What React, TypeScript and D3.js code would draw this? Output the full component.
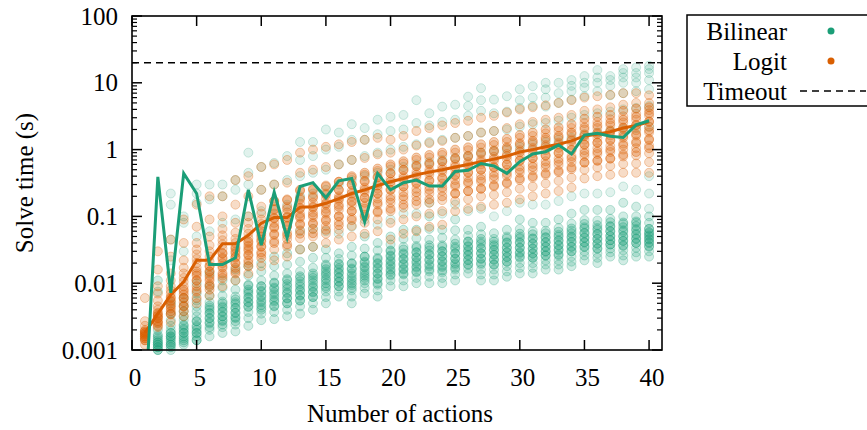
import * as d3 from "d3";

// number of actions on the x axis
const actions = [
  1, 2, 3, 4, 5, 6, 7, 8, 9, 10, 11, 12, 13, 14, 15, 16, 17, 18, 19, 20,
  21, 22, 23, 24, 25, 26, 27, 28, 29, 30, 31, 32, 33, 34, 35, 36, 37, 38, 39, 40,
];

// summary lines (s)
const bilinearLine = [
  0.00013, 0.39, 0.0072, 0.44, 0.22, 0.019, 0.019, 0.024, 0.25, 0.037,
  0.23, 0.048, 0.28, 0.32, 0.19, 0.34, 0.37, 0.083, 0.44, 0.25,
  0.32, 0.35, 0.285, 0.285, 0.47, 0.49, 0.62, 0.57, 0.44, 0.66,
  0.86, 0.93, 1.17, 0.86, 1.65, 1.75, 1.58, 1.52, 2.35, 2.7,
];
const logitLine = [
  0.0018, 0.0035, 0.0067, 0.0105, 0.022, 0.022, 0.039, 0.039, 0.052, 0.079,
  0.096, 0.096, 0.137, 0.14, 0.157, 0.185, 0.22, 0.25, 0.29, 0.33,
  0.37, 0.42, 0.46, 0.5, 0.55, 0.6, 0.66, 0.72, 0.8, 0.92,
  1.0, 1.1, 1.2, 1.35, 1.6, 1.7, 1.85, 2.1, 2.3, 2.6,
];

// individual runs, Bilinear, fast group
const bilinearLow = [
  [0.0001, 0.00012, 0.00013, 0.00014, 0.00016, 0.0002, 0.0003, 0.0006],
  [0.0009, 0.001, 0.0011, 0.0012, 0.0013, 0.0015, 0.0017, 0.002, 0.0075, 0.011],
  [0.001, 0.0012, 0.0014, 0.0016, 0.0018, 0.002, 0.0023, 0.0028, 0.0035, 0.005],
  [0.0012, 0.0015, 0.0018, 0.0021, 0.0024, 0.0028, 0.0032, 0.0038, 0.0046, 0.006],
  [0.0014, 0.0018, 0.0022, 0.0027, 0.0032, 0.0038, 0.0045, 0.0055, 0.007, 0.01],
  [0.0016, 0.002, 0.0025, 0.003, 0.0036, 0.0043, 0.0052, 0.0065, 0.009, 0.014],
  [0.0018, 0.0022, 0.0027, 0.0032, 0.0038, 0.0045, 0.0053, 0.0065, 0.0085, 0.011],
  [0.0019, 0.0024, 0.003, 0.0036, 0.0043, 0.0052, 0.0063, 0.008, 0.011, 0.016],
  [0.0023, 0.003, 0.0037, 0.0044, 0.0052, 0.0062, 0.0075, 0.0095, 0.013, 0.018],
  [0.0028, 0.0035, 0.0043, 0.0052, 0.0062, 0.0074, 0.009, 0.011, 0.015, 0.02],
  [0.0029, 0.0037, 0.0046, 0.0056, 0.0068, 0.0082, 0.01, 0.013, 0.018, 0.025],
  [0.0032, 0.004, 0.005, 0.006, 0.0073, 0.009, 0.011, 0.014, 0.019, 0.028],
  [0.0035, 0.0045, 0.0055, 0.0067, 0.008, 0.0097, 0.012, 0.015, 0.021, 0.032],
  [0.004, 0.005, 0.0062, 0.0075, 0.009, 0.011, 0.013, 0.017, 0.024, 0.035],
  [0.005, 0.0062, 0.0075, 0.009, 0.011, 0.013, 0.015, 0.018, 0.024, 0.032],
  [0.0063, 0.0075, 0.009, 0.0105, 0.012, 0.014, 0.016, 0.019, 0.023, 0.028],
  [0.005, 0.0063, 0.0078, 0.0094, 0.011, 0.013, 0.016, 0.02, 0.026, 0.035],
  [0.007, 0.0085, 0.01, 0.012, 0.014, 0.017, 0.02, 0.025, 0.033, 0.05],
  [0.0063, 0.0078, 0.0095, 0.0115, 0.014, 0.017, 0.02, 0.024, 0.031, 0.04],
  [0.009, 0.011, 0.013, 0.015, 0.018, 0.021, 0.025, 0.03, 0.038, 0.05],
  [0.009, 0.011, 0.0135, 0.016, 0.019, 0.023, 0.028, 0.035, 0.046, 0.063],
  [0.01, 0.012, 0.0145, 0.017, 0.02, 0.024, 0.029, 0.036, 0.047, 0.063],
  [0.01, 0.0125, 0.015, 0.018, 0.022, 0.027, 0.034, 0.045, 0.065, 0.1],
  [0.01, 0.012, 0.0145, 0.0175, 0.021, 0.025, 0.03, 0.037, 0.048, 0.063],
  [0.011, 0.0135, 0.016, 0.019, 0.023, 0.028, 0.035, 0.045, 0.062, 0.09],
  [0.014, 0.0165, 0.019, 0.022, 0.026, 0.03, 0.035, 0.042, 0.051, 0.063],
  [0.011, 0.0135, 0.016, 0.019, 0.023, 0.028, 0.034, 0.042, 0.054, 0.07],
  [0.011, 0.0135, 0.016, 0.019, 0.0225, 0.027, 0.032, 0.038, 0.046, 0.056],
  [0.0125, 0.015, 0.018, 0.021, 0.025, 0.029, 0.034, 0.041, 0.05, 0.063],
  [0.014, 0.017, 0.02, 0.024, 0.028, 0.034, 0.041, 0.05, 0.065, 0.09],
  [0.014, 0.017, 0.02, 0.024, 0.028, 0.033, 0.039, 0.047, 0.06, 0.08],
  [0.016, 0.019, 0.022, 0.026, 0.03, 0.035, 0.041, 0.049, 0.061, 0.08],
  [0.016, 0.019, 0.022, 0.026, 0.031, 0.037, 0.044, 0.053, 0.067, 0.09],
  [0.018, 0.021, 0.025, 0.03, 0.035, 0.042, 0.05, 0.061, 0.078, 0.11],
  [0.022, 0.026, 0.03, 0.035, 0.041, 0.048, 0.057, 0.069, 0.088, 0.125],
  [0.02, 0.024, 0.028, 0.033, 0.039, 0.046, 0.055, 0.067, 0.087, 0.125],
  [0.025, 0.029, 0.033, 0.038, 0.044, 0.051, 0.06, 0.072, 0.092, 0.125],
  [0.022, 0.026, 0.031, 0.036, 0.043, 0.051, 0.062, 0.077, 0.1, 0.16],
  [0.025, 0.029, 0.034, 0.04, 0.047, 0.055, 0.065, 0.08, 0.1, 0.14],
  [0.025, 0.03, 0.035, 0.04, 0.045, 0.05, 0.056, 0.065, 0.08, 0.1],
];

// Bilinear, the dense middle of the fast group
const bilinearCore = [
  [],
  [0.001, 0.0011, 0.0012, 0.0013, 0.0014, 0.0016],
  [0.0011, 0.0012, 0.0013, 0.0015, 0.0016, 0.0018],
  [0.0013, 0.0014, 0.0016, 0.0018, 0.002, 0.0023],
  [0.0014, 0.0016, 0.0018, 0.002, 0.0023, 0.0027],
  [0.0022, 0.0026, 0.003, 0.0035, 0.004, 0.0046],
  [0.0024, 0.0028, 0.0032, 0.0037, 0.0043, 0.005],
  [0.0027, 0.0031, 0.0036, 0.0042, 0.0049, 0.0057],
  [0.0045, 0.0052, 0.006, 0.007, 0.008, 0.0092],
  [0.004, 0.0047, 0.0055, 0.0065, 0.0077, 0.009],
  [0.0045, 0.0053, 0.0062, 0.0073, 0.0086, 0.0102],
  [0.005, 0.0059, 0.007, 0.0082, 0.0097, 0.0115],
  [0.0055, 0.0065, 0.0077, 0.009, 0.0107, 0.0127],
  [0.0062, 0.0073, 0.0086, 0.0101, 0.012, 0.014],
  [0.0085, 0.01, 0.0117, 0.0138, 0.0162, 0.019],
  [0.009, 0.0105, 0.0123, 0.0144, 0.0168, 0.0196],
  [0.0085, 0.01, 0.0118, 0.014, 0.0166, 0.0196],
  [0.011, 0.013, 0.0152, 0.0178, 0.021, 0.025],
  [0.01, 0.0118, 0.0139, 0.0164, 0.0194, 0.023],
  [0.0135, 0.016, 0.0188, 0.022, 0.026, 0.031],
  [0.014, 0.0165, 0.0195, 0.023, 0.027, 0.032],
  [0.015, 0.0177, 0.021, 0.0245, 0.029, 0.034],
  [0.016, 0.019, 0.0225, 0.0265, 0.031, 0.037],
  [0.0155, 0.0183, 0.0215, 0.0255, 0.03, 0.035],
  [0.017, 0.02, 0.0235, 0.028, 0.033, 0.039],
  [0.019, 0.0225, 0.0265, 0.031, 0.036, 0.042],
  [0.02, 0.0235, 0.028, 0.033, 0.039, 0.046],
  [0.019, 0.0225, 0.0265, 0.031, 0.036, 0.042],
  [0.021, 0.0245, 0.029, 0.034, 0.04, 0.047],
  [0.025, 0.029, 0.034, 0.04, 0.047, 0.055],
  [0.024, 0.028, 0.033, 0.039, 0.046, 0.054],
  [0.026, 0.03, 0.035, 0.041, 0.048, 0.056],
  [0.027, 0.032, 0.037, 0.043, 0.05, 0.059],
  [0.03, 0.035, 0.041, 0.048, 0.056, 0.066],
  [0.035, 0.041, 0.048, 0.056, 0.066, 0.077],
  [0.033, 0.039, 0.046, 0.054, 0.063, 0.074],
  [0.038, 0.044, 0.051, 0.06, 0.07, 0.082],
  [0.037, 0.043, 0.05, 0.059, 0.069, 0.081],
  [0.04, 0.046, 0.053, 0.062, 0.072, 0.084],
  [0.036, 0.041, 0.046, 0.052, 0.058, 0.065],
];

// individual runs, Bilinear, slow group
const bilinearHigh = [
  [],
  [],
  [0.022, 0.045, 0.15, 0.22],
  [0.03, 0.08, 0.1],
  [0.05, 0.16, 0.22, 0.3],
  [0.06, 0.18, 0.3],
  [0.08, 0.2, 0.3],
  [0.09, 0.25, 0.35],
  [0.1, 0.3, 0.45, 0.9],
  [0.12, 0.25, 0.55],
  [0.14, 0.3, 0.63],
  [0.15, 0.35, 0.8],
  [0.06, 0.2, 0.4, 0.7, 1.3],
  [0.065, 0.22, 0.45, 0.8, 1.3],
  [0.06, 0.25, 0.5, 1.0, 2.0],
  [0.055, 0.3, 0.6, 1.1, 1.8],
  [0.07, 0.35, 0.7, 1.4, 2.4],
  [0.09, 0.4, 0.8, 1.4, 2.1],
  [0.075, 0.45, 0.9, 1.7, 2.8],
  [0.09, 0.5, 1.0, 1.9, 3.1],
  [0.11, 0.55, 1.1, 2.0, 3.3],
  [0.11, 0.6, 1.2, 2.5, 5.5],
  [0.16, 0.65, 1.3, 2.3, 3.5],
  [0.11, 0.7, 1.4, 2.6, 4.4],
  [0.15, 0.75, 1.5, 2.8, 4.7],
  [0.12, 0.8, 1.6, 3.2, 4.5, 6.2],
  [0.13, 0.9, 1.8, 3.8, 5.5, 8.3],
  [0.1, 0.95, 1.9, 3.5, 5.6],
  [0.12, 1.0, 2.0, 3.7, 6.3],
  [0.16, 1.1, 2.2, 4.2, 5.5, 8.0],
  [0.15, 1.2, 2.4, 4.5, 6.0, 8.9],
  [0.15, 1.3, 2.5, 4.4, 6.0, 8.0, 10],
  [0.17, 1.4, 2.7, 5.0, 7.0, 10],
  [0.2, 1.5, 3.0, 5.6, 7.5, 9, 11],
  [0.22, 1.7, 3.3, 6.3, 8.5, 10, 12.6],
  [0.22, 1.8, 3.5, 7.5, 10, 12, 15.5],
  [0.23, 1.9, 3.7, 6.5, 9, 11, 12.6],
  [0.28, 2.0, 4.0, 7.0, 10, 12, 14, 16],
  [0.25, 2.1, 4.2, 7.5, 10, 12, 14, 17],
  [0.13, 0.22, 0.4, 2.2, 4.5, 8.0, 11, 14, 16, 18],
];

// individual runs, Logit
const logitRuns = [
  [0.0012, 0.0014, 0.0015, 0.0016, 0.0017, 0.0018, 0.0019, 0.002, 0.0023, 0.0027, 0.006],
  [0.0022, 0.0026, 0.003, 0.0033, 0.0036, 0.004, 0.0045, 0.0055, 0.007, 0.009, 0.016, 0.03],
  [0.0026, 0.0035, 0.0045, 0.0055, 0.0062, 0.007, 0.0078, 0.009, 0.011, 0.014, 0.025, 0.045],
  [0.0032, 0.0045, 0.006, 0.0075, 0.009, 0.0105, 0.012, 0.014, 0.017, 0.022, 0.04, 0.09],
  [0.005, 0.008, 0.011, 0.014, 0.017, 0.02, 0.023, 0.027, 0.032, 0.04, 0.07, 0.15],
  [0.0065, 0.009, 0.012, 0.015, 0.018, 0.021, 0.025, 0.03, 0.037, 0.05, 0.09, 0.2],
  [0.009, 0.013, 0.018, 0.023, 0.028, 0.033, 0.038, 0.044, 0.052, 0.065, 0.1, 0.2],
  [0.011, 0.015, 0.02, 0.025, 0.03, 0.035, 0.04, 0.046, 0.057, 0.08, 0.15, 0.35],
  [0.014, 0.02, 0.027, 0.033, 0.04, 0.047, 0.055, 0.065, 0.08, 0.1, 0.2, 0.4],
  [0.018, 0.027, 0.036, 0.045, 0.055, 0.066, 0.077, 0.09, 0.11, 0.14, 0.25, 0.55],
  [0.022, 0.032, 0.043, 0.055, 0.067, 0.08, 0.093, 0.11, 0.13, 0.17, 0.3, 0.6],
  [0.025, 0.035, 0.046, 0.057, 0.07, 0.083, 0.097, 0.115, 0.14, 0.18, 0.32, 0.7],
  [0.032, 0.047, 0.062, 0.078, 0.095, 0.11, 0.13, 0.155, 0.19, 0.24, 0.45, 0.9],
  [0.035, 0.05, 0.065, 0.08, 0.097, 0.115, 0.135, 0.16, 0.2, 0.26, 0.5, 1.0],
  [0.04, 0.055, 0.072, 0.09, 0.11, 0.13, 0.15, 0.18, 0.22, 0.29, 0.55, 1.1],
  [0.045, 0.063, 0.083, 0.1, 0.125, 0.15, 0.175, 0.2, 0.25, 0.33, 0.6, 1.2],
  [0.05, 0.072, 0.095, 0.12, 0.145, 0.17, 0.2, 0.24, 0.3, 0.38, 0.7, 1.3],
  [0.055, 0.08, 0.105, 0.13, 0.16, 0.19, 0.23, 0.27, 0.33, 0.42, 0.75, 1.4],
  [0.06, 0.09, 0.12, 0.15, 0.185, 0.22, 0.26, 0.31, 0.38, 0.48, 0.85, 1.5],
  [0.045, 0.08, 0.12, 0.16, 0.2, 0.25, 0.3, 0.36, 0.44, 0.56, 0.9, 1.4],
  [0.055, 0.09, 0.135, 0.18, 0.23, 0.28, 0.34, 0.4, 0.49, 0.62, 1.0, 1.6],
  [0.06, 0.1, 0.15, 0.2, 0.26, 0.32, 0.39, 0.46, 0.56, 0.7, 1.15, 1.9],
  [0.07, 0.11, 0.16, 0.22, 0.28, 0.35, 0.42, 0.5, 0.6, 0.76, 1.25, 2.1],
  [0.075, 0.12, 0.175, 0.24, 0.31, 0.38, 0.46, 0.55, 0.66, 0.83, 1.35, 2.3],
  [0.12, 0.17, 0.22, 0.28, 0.35, 0.42, 0.5, 0.6, 0.72, 0.9, 1.5, 2.5],
  [0.13, 0.18, 0.24, 0.31, 0.38, 0.46, 0.55, 0.65, 0.78, 0.98, 1.6, 2.7],
  [0.14, 0.2, 0.26, 0.33, 0.41, 0.5, 0.6, 0.71, 0.85, 1.07, 1.8, 3.0],
  [0.15, 0.21, 0.28, 0.36, 0.45, 0.55, 0.66, 0.78, 0.93, 1.17, 1.9, 3.2],
  [0.16, 0.23, 0.31, 0.4, 0.5, 0.6, 0.72, 0.86, 1.03, 1.3, 2.1, 3.6],
  [0.18, 0.26, 0.35, 0.45, 0.56, 0.68, 0.82, 0.98, 1.18, 1.5, 2.4, 4.0],
  [0.2, 0.28, 0.38, 0.49, 0.61, 0.74, 0.89, 1.06, 1.28, 1.6, 2.6, 4.3],
  [0.22, 0.31, 0.42, 0.54, 0.67, 0.81, 0.98, 1.17, 1.4, 1.75, 2.8, 4.6],
  [0.24, 0.34, 0.46, 0.59, 0.73, 0.88, 1.06, 1.27, 1.52, 1.9, 3.0, 5.0],
  [0.27, 0.38, 0.51, 0.65, 0.8, 0.98, 1.18, 1.42, 1.7, 2.1, 3.3, 5.5],
  [0.37, 0.5, 0.64, 0.8, 0.98, 1.18, 1.4, 1.67, 2.0, 2.5, 3.8, 6.0],
  [0.4, 0.54, 0.69, 0.86, 1.05, 1.27, 1.5, 1.78, 2.1, 2.6, 4.0, 6.3],
  [0.42, 0.57, 0.73, 0.92, 1.13, 1.37, 1.63, 1.94, 2.3, 2.85, 4.3, 6.6],
  [0.45, 0.61, 0.79, 1.0, 1.23, 1.5, 1.8, 2.15, 2.55, 3.15, 4.7, 7.0],
  [0.45, 0.62, 0.82, 1.05, 1.32, 1.62, 1.95, 2.35, 2.8, 3.45, 5.0, 7.0],
  [0.45, 0.65, 0.88, 1.15, 1.45, 1.8, 2.2, 2.65, 3.2, 3.9, 5.0, 6.5],
];

// Logit, the dense middle of each column
const logitCore = [
  [0.0014, 0.0015, 0.0016, 0.0017, 0.0018, 0.0019],
  [0.0023, 0.0025, 0.0027, 0.003, 0.0032, 0.0035],
  [0.0034, 0.0038, 0.0042, 0.0047, 0.0053, 0.006],
  [0.0038, 0.0045, 0.0052, 0.006, 0.0068, 0.008],
  [0.006, 0.0075, 0.009, 0.011, 0.013, 0.015],
  [0.008, 0.0095, 0.011, 0.013, 0.015, 0.018],
  [0.012, 0.014, 0.017, 0.02, 0.024, 0.028],
  [0.014, 0.017, 0.02, 0.024, 0.028, 0.033],
  [0.018, 0.022, 0.026, 0.031, 0.036, 0.042],
  [0.024, 0.029, 0.035, 0.042, 0.05, 0.06],
  [0.04, 0.053, 0.07, 0.095, 0.125, 0.17],
  [0.038, 0.052, 0.072, 0.097, 0.13, 0.175],
  [0.055, 0.075, 0.1, 0.135, 0.18, 0.25],
  [0.056, 0.077, 0.105, 0.14, 0.19, 0.25],
  [0.063, 0.086, 0.117, 0.157, 0.21, 0.28],
  [0.074, 0.1, 0.14, 0.185, 0.25, 0.33],
  [0.088, 0.12, 0.165, 0.22, 0.3, 0.4],
  [0.1, 0.14, 0.19, 0.25, 0.34, 0.45],
  [0.115, 0.16, 0.22, 0.29, 0.39, 0.52],
  [0.13, 0.18, 0.25, 0.33, 0.44, 0.6],
  [0.15, 0.2, 0.28, 0.37, 0.5, 0.67],
  [0.17, 0.23, 0.31, 0.42, 0.57, 0.76],
  [0.18, 0.25, 0.34, 0.46, 0.62, 0.83],
  [0.2, 0.27, 0.37, 0.5, 0.67, 0.9],
  [0.22, 0.3, 0.41, 0.55, 0.74, 1.0],
  [0.24, 0.33, 0.45, 0.6, 0.81, 1.08],
  [0.26, 0.36, 0.5, 0.66, 0.9, 1.2],
  [0.29, 0.4, 0.54, 0.72, 0.97, 1.3],
  [0.32, 0.44, 0.6, 0.8, 1.08, 1.45],
  [0.37, 0.5, 0.69, 0.92, 1.24, 1.65],
  [0.4, 0.55, 0.75, 1.0, 1.35, 1.8],
  [0.44, 0.6, 0.82, 1.1, 1.5, 2.0],
  [0.48, 0.66, 0.9, 1.2, 1.6, 2.15],
  [0.54, 0.74, 1.0, 1.35, 1.8, 2.4],
  [0.64, 0.88, 1.2, 1.6, 2.15, 2.9],
  [0.68, 0.93, 1.27, 1.7, 2.3, 3.1],
  [0.74, 1.0, 1.4, 1.85, 2.5, 3.3],
  [0.84, 1.15, 1.6, 2.1, 2.8, 3.8],
  [0.92, 1.25, 1.7, 2.3, 3.1, 4.1],
  [1.05, 1.4, 1.95, 2.6, 3.5, 4.3],
];

const timeoutSeconds = 20;
const xTicks = [0, 5, 10, 15, 20, 25, 30, 35, 40];
const yTicks = [0.001, 0.01, 0.1, 1, 10, 100];
const yTickLabels = ["0.001", "0.01", "0.1", "1", "10", "100"];

const GREEN = "#1b9e77";
const ORANGE = "#d95f02";
const FONT = "'Liberation Serif', 'Times New Roman', serif";

const width = 867;
const height = 430;
const margin = { top: 16, right: 205, bottom: 80, left: 132 };

function Runs({ rows, color, x, y, alpha }) {
  return (
    <g>
      {rows.map((vals, i) =>
        vals
          .filter((v) => v >= 0.001 && v <= 100)
          .map((v, j) => (
            <circle
              key={`${i}-${j}`}
              cx={x(actions[i])}
              cy={y(v)}
              r={4.5}
              fill={color}
              fillOpacity={alpha}
              stroke={color}
              strokeOpacity={alpha + 0.08}
              strokeWidth={1}
            />
          )),
      )}
    </g>
  );
}

export default function App() {
  const x = d3
    .scaleLinear()
    .domain([0, 41])
    .range([margin.left, width - margin.right]);
  const y = d3
    .scaleLog()
    .domain([0.001, 100])
    .range([height - margin.bottom, margin.top]);

  const line = (vals: number[]) =>
    d3
      .line<number>()
      .x((d, i) => x(actions[i]))
      .y((d) => y(d))(vals);

  const minorTicks = y.ticks().filter((t) => !yTicks.some((m) => Math.abs(m - t) / m < 1e-6));
  const x0 = margin.left;
  const x1 = width - margin.right;
  const y0 = height - margin.bottom;
  const y1 = margin.top;

  return (
    <svg
      width={width}
      height={height}
      style={{ position: "fixed", left: 0, top: 0, background: "white" }}
      fontFamily={FONT}
      fontSize={25}
    >
      <defs>
        <clipPath id="plot-clip">
          <rect x={x0} y={y1} width={x1 - x0} height={y0 - y1} />
        </clipPath>
      </defs>

      <Runs rows={bilinearLow} color={GREEN} x={x} y={y} alpha={0.2} />
      <Runs rows={bilinearCore} color={GREEN} x={x} y={y} alpha={0.26} />
      <Runs rows={bilinearHigh} color={GREEN} x={x} y={y} alpha={0.13} />
      <Runs rows={logitRuns} color={ORANGE} x={x} y={y} alpha={0.22} />
      <Runs rows={logitCore} color={ORANGE} x={x} y={y} alpha={0.3} />

      <line
        x1={x0}
        x2={x1}
        y1={y(timeoutSeconds)}
        y2={y(timeoutSeconds)}
        stroke="black"
        strokeWidth={1.5}
        strokeDasharray="7,5"
      />

      <g clipPath="url(#plot-clip)">
        <path d={line(logitLine)} fill="none" stroke={ORANGE} strokeWidth={3} />
        <path d={line(bilinearLine)} fill="none" stroke={GREEN} strokeWidth={3} />
      </g>

      {/* border */}
      <rect x={x0} y={y1} width={x1 - x0} height={y0 - y1} fill="none" stroke="black" strokeWidth={1.6} />

      {/* y ticks */}
      {yTicks.map((t, i) => (
        <g key={t}>
          <line x1={x0} x2={x0 + 10} y1={y(t)} y2={y(t)} stroke="black" strokeWidth={1.5} />
          <line x1={x1} x2={x1 - 10} y1={y(t)} y2={y(t)} stroke="black" strokeWidth={1.5} />
          <text x={118} y={y(t)} dy="0.34em" textAnchor="end">
            {yTickLabels[i]}
          </text>
        </g>
      ))}
      {minorTicks.map((t) => (
        <g key={`m${t}`}>
          <line x1={x0} x2={x0 + 5} y1={y(t)} y2={y(t)} stroke="black" strokeWidth={1.2} />
          <line x1={x1} x2={x1 - 5} y1={y(t)} y2={y(t)} stroke="black" strokeWidth={1.2} />
        </g>
      ))}

      {/* x ticks */}
      {xTicks.map((t) => (
        <g key={t}>
          <line x1={x(t)} x2={x(t)} y1={y0} y2={y0 - 10} stroke="black" strokeWidth={1.5} />
          <line x1={x(t)} x2={x(t)} y1={y1} y2={y1 + 10} stroke="black" strokeWidth={1.5} />
          <text x={x(t)} dx={3} y={386} textAnchor="middle">
            {t}
          </text>
        </g>
      ))}

      <text x={(x0 + x1) / 2} dx={3} y={422} textAnchor="middle">
        Number of actions
      </text>
      <text transform={`translate(33, ${(y0 + y1) / 2}) rotate(-90)`} textAnchor="middle">
        Solve time (s)
      </text>

      {/* legend, its right edge runs off the page */}
      <g>
        <rect x={687} y={15} width={190} height={91} fill="white" stroke="black" strokeWidth={1.5} />
        <text x={787} y={40} textAnchor="end">Bilinear</text>
        <circle cx={831} cy={31} r={3.5} fill={GREEN} />
        <text x={787} y={70} textAnchor="end">Logit</text>
        <circle cx={831} cy={61} r={3.5} fill={ORANGE} />
        <text x={787} y={100} textAnchor="end">Timeout</text>
        <line x1={800} x2={866} y1={91} y2={91} stroke="black" strokeWidth={1.5} strokeDasharray="7,5" />
      </g>
    </svg>
  );
}
